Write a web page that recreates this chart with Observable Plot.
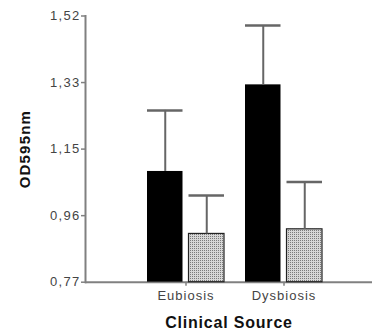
<!DOCTYPE html>
<html>
<head>
<meta charset="utf-8">
<script src="https://cdn.jsdelivr.net/npm/d3@7"></script>
<script src="https://cdn.jsdelivr.net/npm/@observablehq/plot@0.6"></script>
<style>
  html, body { margin: 0; padding: 0; background: #fff; }
  #chart svg { display: block; }
  #chart g[aria-label="y-axis tick label"] text { fill: #444; font-size: 13px; letter-spacing: 1.3px; }
  #chart g[aria-label="x-axis tick label"] text { fill: #444; font-size: 13px; letter-spacing: 1px; }
  #chart g[aria-label="y-axis label"] text { fill: #111; font-size: 15px; font-weight: bold; letter-spacing: 1.2px; }
  #chart g[aria-label="x-axis label"] text { fill: #111; font-size: 16px; font-weight: bold; letter-spacing: 0.8px; }
  #chart g[aria-label="y-axis tick"] path, #chart g[aria-label="x-axis tick"] path { stroke-width: 1.5px; }
</style>
</head>
<body>
<div id="chart"></div>
<script>
const categories = ["Eubiosis", "Dysbiosis"];
const blackMeans = [1.082, 1.326];
const blackUpper = [1.254, 1.493];
const greyMeans = [0.906, 0.919];
const greyUpper = [1.014, 1.052];
const yTicks = [0.77, 0.9575, 1.145, 1.3325, 1.52];
const yTickLabels = ["0,77", "0,96", "1,15", "1,33", "1,52"];

const blackData = categories.map((c, i) => ({cat: c, mean: blackMeans[i], upper: blackUpper[i]}));
const greyData = categories.map((c, i) => ({cat: c, mean: greyMeans[i], upper: greyUpper[i]}));
const base = yTicks[0];

const chart = Plot.plot({
  width: 372,
  height: 330,
  marginTop: 15.5,
  marginBottom: 48.3,
  marginLeft: 85,
  marginRight: 0,
  style: {fontFamily: "'Liberation Sans', Arial, sans-serif", color: "#808080", background: "#fff", overflow: "visible"},
  x: {
    domain: categories,
    paddingInner: 0.212,
    paddingOuter: 0.5555,
    align: 0.5545,
    tickSize: 4,
    tickPadding: 5,
    label: "Clinical Source",
    labelAnchor: "center",
    labelArrow: false,
    labelOffset: 46
  },
  y: {
    domain: [yTicks[0], yTicks[yTicks.length - 1]],
    ticks: yTicks,
    tickFormat: d => yTickLabels[yTicks.indexOf(d)],
    tickSize: 4,
    tickPadding: 1,
    label: "OD595nm",
    labelAnchor: "center",
    labelArrow: false,
    labelOffset: 66
  },
  marks: [
    Plot.frame({anchor: "left", stroke: "#808080", strokeWidth: 2}),
    Plot.ruleY([base], {stroke: "#808080", strokeWidth: 2}),
    Plot.barY(blackData, {x: "cat", y1: base, y2: "mean", fill: "#000", insetRight: 41.5}),
    Plot.barY(greyData, {x: "cat", y1: base, y2: "mean", fill: "url(#stipple)", stroke: "#222", strokeWidth: 1.2, insetLeft: 41.5}),
    Plot.ruleX(blackData, {x: "cat", y1: "mean", y2: "upper", dx: -20.75, stroke: "#666", strokeWidth: 2}),
    Plot.tickY(blackData, {x: "cat", y: "upper", insetRight: 41.5, stroke: "#666", strokeWidth: 2.5}),
    Plot.ruleX(greyData, {x: "cat", y1: "mean", y2: "upper", dx: 20.75, stroke: "#666", strokeWidth: 2}),
    Plot.tickY(greyData, {x: "cat", y: "upper", insetLeft: 41.5, stroke: "#666", strokeWidth: 2.5})
  ]
});

const ns = "http://www.w3.org/2000/svg";
const defs = document.createElementNS(ns, "defs");
defs.innerHTML = '<pattern id="stipple" width="2" height="2" patternUnits="userSpaceOnUse">' +
  '<rect width="2" height="2" fill="#d6d6d6"/>' +
  '<rect width="1" height="1" fill="#7a7a7a"/></pattern>';
chart.insertBefore(defs, chart.firstChild);
document.getElementById("chart").appendChild(chart);
</script>
</body>
</html>
